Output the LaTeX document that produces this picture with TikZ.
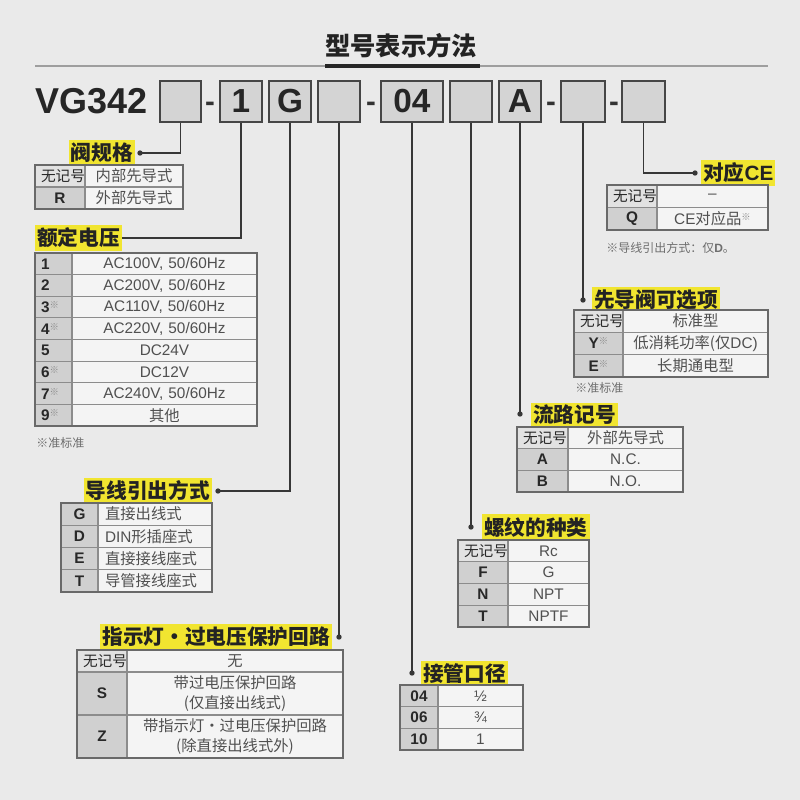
\documentclass[tikz,border=0pt]{standalone}
\usepackage{fontspec}
\setmainfont{Liberation Sans}
\newfontfamily\cjk{Noto Sans CJK SC}
\definecolor{bgc}{RGB}{234,234,234}
\definecolor{boxfill}{RGB}{212,212,212}
\definecolor{boxline}{RGB}{70,70,70}
\definecolor{keyfill}{RGB}{208,208,208}
\definecolor{keylight}{RGB}{226,226,226}
\definecolor{valfill}{RGB}{244,244,244}
\definecolor{outerc}{RGB}{105,105,105}
\definecolor{innerc}{RGB}{140,140,140}
\definecolor{keycol}{RGB}{40,40,40}
\definecolor{valcol}{RGB}{80,80,80}
\definecolor{hl}{RGB}{241,229,48}
\definecolor{labcol}{RGB}{35,35,35}
\definecolor{lc}{RGB}{55,55,55}
\definecolor{notec}{RGB}{110,110,110}
\definecolor{astcol}{RGB}{140,140,140}
\tikzset{
  ttl/.style={font=\cjk\bfseries\fontsize{19}{20}\selectfont, text=labcol, inner sep=0pt},
  big/.style={font=\bfseries\fontsize{27}{28}\selectfont, text=black!85, inner sep=0pt},
  vbox/.style={draw=boxline, fill=boxfill, line width=1.1pt, minimum height=30.75pt, inner sep=0pt, font=\bfseries\fontsize{25}{26}\selectfont, text=black!85},
  dashtxt/.style={font=\bfseries\fontsize{22}{23}\selectfont, text=black!80, inner sep=0pt},
  lab/.style={fill=hl, text=labcol, font=\cjk\bfseries\fontsize{15.5}{16}\selectfont, inner xsep=1.5pt, inner ysep=2pt, minimum height=17pt},
  conn/.style={draw=lc, line width=1.4pt},
  keytxt/.style={font=\bfseries\fontsize{11.5}{13}\selectfont, text=keycol, inner sep=0pt},
  valtxt/.style={font=\fontsize{11.5}{14.5}\selectfont, text=valcol, inner sep=0pt},
  kal/.style={align=center},
  val/.style={align=center},
  outerb/.style={draw=outerc, line width=1.2pt},
  innerb/.style={draw=innerc, line width=0.8pt},
  note/.style={font=\cjk\fontsize{9}{10}\selectfont, text=notec, inner sep=0pt, anchor=west},
}
\newcommand\astr{\raisebox{0.5ex}{\color{astcol}\fontsize{7}{7}\selectfont\cjk ※}}
\newcommand\nj{{\cjk\mdseries\fontsize{11}{12}\selectfont 无记号}}
% name, x0, xs, x1, ytop, ybot, keyfill, key, value
\newcommand\trow[9]{%
  \fill[#7] (#2,#5) rectangle (#3,#6);
  \fill[valfill] (#3,#5) rectangle (#4,#6);
  \draw[innerb] (#2,#5) -- (#4,#5);
  \pgfmathsetlengthmacro\mykw{(#3-#2-12)*0.75pt}%
  \pgfmathsetlengthmacro\myvw{(#4-#3-14)*0.75pt}%
  \node[keytxt, text width=\mykw, kal] (#1k) at ({(#2+#3)/2},{(#5+#6)/2}) {#8};
  \node[valtxt, text width=\myvw, val] (#1v) at ({(#3+#4)/2},{(#5+#6)/2}) {#9};
}
\newcommand\tframe[5]{% x0 xs x1 ytop ybot
  \draw[innerb] (#2,#4) -- (#2,#5);
  \draw[outerb] (#1,#4) rectangle (#3,#5);
}
\begin{document}
\begin{tikzpicture}[x=0.75pt,y=-0.75pt]
\fill[bgc] (0,0) rectangle (800,800);
\useasboundingbox (0,0) rectangle (800,800);
% title
\node[ttl] (title) at (401,46) {型号表示方法};
\draw[draw=black!38, line width=1.5pt] (35,66) -- (768,66);
\draw[draw=black!85, line width=2.6pt] (325,66) -- (480,66);
% model code
\node[big, anchor=west] (vg) at (35,101.5) {VG342};
\node[vbox, minimum width=31pt] (b1) at (180.5,101.5) {};
\node[dashtxt] (dash1) at (210,107) {-};
\node[vbox, minimum width=31.5pt] (b2) at (241,101.5) {1};
\node[vbox, minimum width=31.5pt] (b3) at (290,101.5) {G};
\node[vbox, minimum width=31.5pt] (b4) at (339,101.5) {};
\node[dashtxt] (dash2) at (371,107) {-};
\node[vbox, minimum width=46.5pt] (b5) at (412,101.5) {04};
\node[vbox, minimum width=31.5pt] (b6) at (471,101.5) {};
\node[vbox, minimum width=31.5pt] (b7) at (520,101.5) {A};
\node[dashtxt] (dash3) at (551,107) {-};
\node[vbox, minimum width=33pt] (b8) at (583,101.5) {};
\node[dashtxt] (dash4) at (614,107) {-};
\node[vbox, minimum width=32pt] (b9) at (643.5,101.5) {};
% dots
\coordinate (d1) at (140,153);
\coordinate (d2) at (118,238);
\coordinate (d3) at (218,491);
\coordinate (d4) at (339,637);
\coordinate (d5) at (412,673);
\coordinate (d6) at (471,527);
\coordinate (d7) at (520,414);
\coordinate (d8) at (583,300);
\coordinate (d9) at (695,173);
\draw[conn] (b1.south) |- (d1);
\draw[conn] (b2.south) |- (d2);
\draw[conn] (b3.south) |- (d3);
\draw[conn] (b4.south) -- (d4);
\draw[conn] (b5.south) -- (d5);
\draw[conn] (b6.south) -- (d6);
\draw[conn] (b7.south) -- (d7);
\draw[conn] (b8.south) -- (d8);
\draw[conn] (b9.south) |- (d9);
\foreach \d in {d1,d2,d3,d4,d5,d6,d7,d8,d9} \fill[lc] (\d) circle[radius=2pt];
% labels
\node[lab, anchor=east] (L1) at (135,153) {阀规格};
\node[lab, anchor=west] (L2) at (35,238) {额定电压};
\node[lab, anchor=east] (L3) at (212,491) {导线引出方式};
\node[lab, anchor=east] (L4) at (332,637) {指示灯・过电压保护回路};
\node[lab, anchor=west] (L5) at (421,674) {接管口径};
\node[lab, anchor=west] (L6) at (482,527) {螺纹的种类};
\node[lab, anchor=west] (L7) at (531,415) {流路记号};
\node[lab, anchor=west] (L8) at (592,300) {先导阀可选项};
\node[lab, anchor=west] (L9) at (701,173) {{\cjk 对应}\fontspec{Liberation Sans}\bfseries CE};
% T1
\trow{ta1}{35}{85}{183}{165}{187}{keylight}{\nj}{{\cjk 内部先导式}}
\trow{ta2}{35}{85}{183}{187}{209}{keyfill}{R}{{\cjk 外部先导式}}
\tframe{35}{85}{183}{165}{209}
% T2
\begin{scope}[kal/.style={align=left}]
\trow{tb1}{35}{72}{257}{253}{274.6}{keyfill}{1}{AC100V, 50/60Hz}
\trow{tb2}{35}{72}{257}{274.6}{296.3}{keyfill}{2}{AC200V, 50/60Hz}
\trow{tb3}{35}{72}{257}{296.3}{317.9}{keyfill}{3\astr}{AC110V, 50/60Hz}
\trow{tb4}{35}{72}{257}{317.9}{339.5}{keyfill}{4\astr}{AC220V, 50/60Hz}
\trow{tb5}{35}{72}{257}{339.5}{361.1}{keyfill}{5}{DC24V}
\trow{tb6}{35}{72}{257}{361.1}{382.8}{keyfill}{6\astr}{DC12V}
\trow{tb7}{35}{72}{257}{382.8}{404.4}{keyfill}{7\astr}{AC240V, 50/60Hz}
\trow{tb8}{35}{72}{257}{404.4}{426}{keyfill}{9\astr}{{\cjk 其他}}
\end{scope}
\tframe{35}{72}{257}{253}{426}
\node[note] (n2) at (36,443) {※准标准};
% T3
\begin{scope}[val/.style={align=left}]
\trow{tc1}{61}{98}{212}{503}{525.25}{keyfill}{G}{{\cjk 直接出线式}}
\trow{tc2}{61}{98}{212}{525.25}{547.5}{keyfill}{D}{DIN{\cjk 形插座式}}
\trow{tc3}{61}{98}{212}{547.5}{569.75}{keyfill}{E}{{\cjk 直接接线座式}}
\trow{tc4}{61}{98}{212}{569.75}{592}{keyfill}{T}{{\cjk 导管接线座式}}
\end{scope}
\tframe{61}{98}{212}{503}{592}
% T4
\trow{td1}{77}{127}{343}{650}{672}{keylight}{\nj}{{\cjk 无}}
\trow{td2}{77}{127}{343}{672}{715}{keyfill}{S}{{\cjk 带过电压保护回路}\\{\cjk (仅直接出线式)}}
\trow{td3}{77}{127}{343}{715}{758}{keyfill}{Z}{{\cjk 带指示灯・过电压保护回路}\\{\cjk (除直接出线式外)}}
\tframe{77}{127}{343}{650}{758}
% T5
\trow{te1}{400}{438}{523}{685}{706.7}{keyfill}{04}{½}
\trow{te2}{400}{438}{523}{706.7}{728.3}{keyfill}{06}{¾}
\trow{te3}{400}{438}{523}{728.3}{750}{keyfill}{10}{1}
\tframe{400}{438}{523}{685}{750}
% T6
\trow{tf1}{458}{508}{589}{540}{561.75}{keylight}{\nj}{Rc}
\trow{tf2}{458}{508}{589}{561.75}{583.5}{keyfill}{F}{G}
\trow{tf3}{458}{508}{589}{583.5}{605.25}{keyfill}{N}{NPT}
\trow{tf4}{458}{508}{589}{605.25}{627}{keyfill}{T}{NPTF}
\tframe{458}{508}{589}{540}{627}
% T7
\trow{tg1}{517}{568}{683}{427}{448.7}{keylight}{\nj}{{\cjk 外部先导式}}
\trow{tg2}{517}{568}{683}{448.7}{470.3}{keyfill}{A}{N.C.}
\trow{tg3}{517}{568}{683}{470.3}{492}{keyfill}{B}{N.O.}
\tframe{517}{568}{683}{427}{492}
% T8
\trow{th1}{574}{623}{768}{310}{332.3}{keylight}{\nj}{{\cjk 标准型}}
\trow{th2}{574}{623}{768}{332.3}{354.7}{keyfill}{Y\astr}{{\cjk 低消耗功率(仅}DC)}
\trow{th3}{574}{623}{768}{354.7}{377}{keyfill}{E\astr}{{\cjk 长期通电型}}
\tframe{574}{623}{768}{310}{377}
\node[note] (n8) at (575,388) {※准标准};
% T9
\trow{ti1}{607}{657}{768}{185}{207.5}{keylight}{\nj}{–}
\trow{ti2}{607}{657}{768}{207.5}{230}{keyfill}{Q}{CE{\cjk 对应品}\astr}
\tframe{607}{657}{768}{185}{230}
\node[note] (n9) at (606,248) {※导线引出方式：仅\fontspec{Liberation Sans}\bfseries D\cjk\mdseries 。};
\end{tikzpicture}
\end{document}
